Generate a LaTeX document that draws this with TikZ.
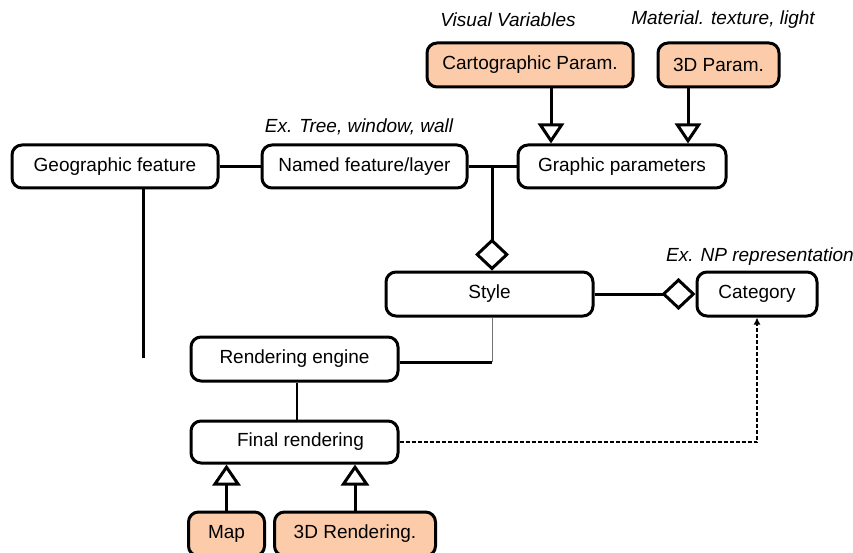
\documentclass[tikz,border=0pt]{standalone}
\usepackage{fontspec}
\setmainfont{Liberation Sans}
\usetikzlibrary{arrows.meta}
\definecolor{peach}{RGB}{252,204,170}
\begin{document}
\begin{tikzpicture}[x=1pt,y=-1pt,
  box/.style={draw, line width=3pt, rounded corners=10pt, inner sep=0pt, fill=white,
    font=\fontsize{19}{22}\selectfont},
  obox/.style={box, fill=peach},
  lbl/.style={inner sep=0pt, font=\fontsize{19}{22}\selectfont\itshape},
  conn/.style={line width=3pt},
  inh/.style={line width=3pt, -{Triangle[open, length=20pt, width=26pt, line join=miter]}},
  inhb/.style={line width=3pt, -{Triangle[open, length=21pt, width=28pt, line join=miter]}},
  agg/.style={line width=3pt, -{Diamond[open, length=32pt, width=34pt, line join=miter]}},
  aggh/.style={line width=3pt, -{Diamond[open, length=34pt, width=32pt, line join=miter]}},
  dep/.style={line width=1.8pt, dash pattern=on 4pt off 2pt, -{Latex[length=7pt, width=7pt]}}]
\useasboundingbox (0,0) rectangle (853,553);

% boxes
\node[box, minimum width=206pt, minimum height=43pt] (geo) at (115,166.5) {Geographic feature};
\node[box, minimum width=205pt, minimum height=43pt] (named) at (364.5,166.5) {Named feature/layer};
\node[box, minimum width=208pt, minimum height=43pt] (graphic) at (622,166.5) {Graphic parameters};
\node[obox, minimum width=206pt, minimum height=44pt] (carto) at (530,65) {Cartographic Param.};
\node[obox, minimum width=121pt, minimum height=44pt] (tdp) at (718.5,65) {3D Param.};
\node[box, minimum width=207pt, minimum height=44pt] (style) at (489.5,294) {Style};
\node[box, minimum width=120pt, minimum height=44pt] (cat) at (757,294) {Category};
\node[box, minimum width=207pt, minimum height=44pt] (reng) at (294.5,359) {Rendering engine};
\node[box, minimum width=207pt, minimum height=42pt] (final) at (294.5,442) {\hspace{12pt}Final rendering};
\node[obox, minimum width=76pt, minimum height=44pt] (map) at (226.5,534) {Map};
\node[obox, minimum width=161pt, minimum height=44pt] (tdr) at (355,534) {3D Rendering.};

% labels
\node[lbl] (lvv) at (508,20) {Visual Variables};
\node[lbl] (lmat) at (723,20) {Material. texture, light};
\node[lbl] (ltree) at (359,127) {Ex. Tree, window, wall};
\node[lbl] (lnp) at (760,257) {Ex. NP representation};

% helper coordinates
\coordinate (j1) at (492,166.5);
\coordinate (g1) at (143,358);
\coordinate (s1) at (492,362);
\coordinate (r1) at (297,0);
\coordinate (c1) at (551,0);
\coordinate (c2) at (688,0);

% connectors
\draw[conn] (geo.east) -- (named.west);
\draw[conn] (named.east) -- (graphic.west);
\draw[agg] (j1) -- (j1 |- style.north);
\draw[aggh] (style.east) -- (cat.west);
\draw[conn] (geo.south -| g1) -- (g1);
\draw[line width=1pt, black!55] (style.south -| s1) -- (s1);
\draw[conn] (s1) -- (reng.east |- s1);
\draw[line width=2pt] (reng.south -| r1) -- (final.north -| r1);
\draw[inh] (carto.south -| c1) -- (graphic.north -| c1);
\draw[inh] (tdp.south -| c2) -- (graphic.north -| c2);
\draw[inhb] (map.north) -- (final.south -| map.north);
\draw[inhb] (tdr.north) -- (final.south -| tdr.north);
\draw[dep] (final.east) -- (final.east -| cat.south) -- (cat.south);
\end{tikzpicture}
\end{document}
